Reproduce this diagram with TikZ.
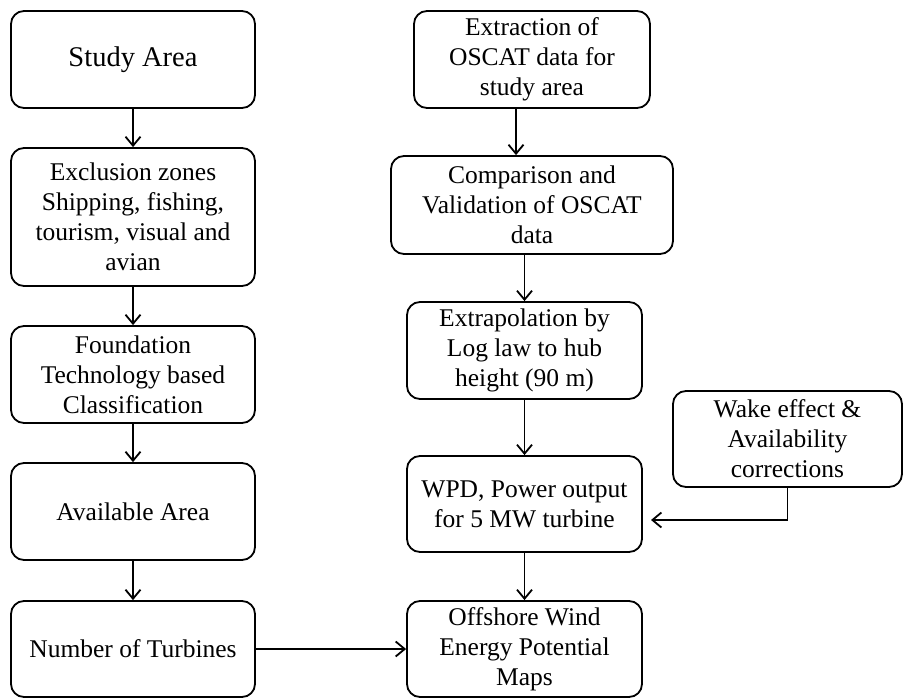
\documentclass[tikz,border=0pt]{standalone}
\usepackage{fontspec}
\setmainfont{Liberation Serif}
\usetikzlibrary{arrows.meta}
\begin{document}
\begin{tikzpicture}[x=1pt,y=-1pt,
  box/.style={draw, line width=1.8pt, rounded corners=13pt, align=center, inner sep=0pt,
    font=\fontsize{25.5}{30}\selectfont},
  arr/.style={draw, line width=1.8pt, -{Straight Barb[length=9pt,width=15pt,line width=1.8pt]}}]
\useasboundingbox (0,0) rectangle (919,698);
% left column
\node[box, minimum width=244pt, minimum height=97pt, font=\fontsize{28.5}{33}\selectfont] (study) at (133,59.5) {Study Area};
\node[box, minimum width=244pt, minimum height=138pt] (excl) at (133,217) {Exclusion zones\\Shipping, fishing,\\tourism, visual and\\avian};
\node[box, minimum width=244pt, minimum height=97pt] (found) at (133,374.5) {Foundation\\Technology based\\Classification};
\node[box, minimum width=244pt, minimum height=97pt] (avail) at (133,511.5) {Available Area};
\node[box, minimum width=244pt, minimum height=96pt] (num) at (133,649) {Number of Turbines};
% right column
\node[box, minimum width=236pt, minimum height=97pt] (extr) at (532,59.5) {\raisebox{-3pt}{\parbox{236pt}{\centering Extraction of\\OSCAT data for\\study area}}};
\node[box, minimum width=282pt, minimum height=98pt] (comp) at (532,205) {Comparison and\\Validation of OSCAT\\data};
\node[box, minimum width=235pt, minimum height=97pt] (extrap) at (524.5,350.5) {Extrapolation by\\Log law to hub\\height (90 m)};
\node[box, minimum width=235pt, minimum height=96pt] (wpd) at (524.5,504) {WPD, Power output\\for 5 MW turbine};
\node[box, minimum width=235pt, minimum height=96pt] (off) at (524.5,649) {Offshore Wind\\Energy Potential\\Maps};
\node[box, minimum width=229pt, minimum height=96pt] (wake) at (787.5,439) {Wake effect \&\\Availability\\corrections};
\coordinate (wt) at (651,520);
% connectors
\draw[arr] (study) -- (excl);
\draw[arr] (excl) -- (found);
\draw[arr] (found) -- (avail);
\draw[arr] (avail) -- (num);
\draw[arr] (num) -- (off);
\draw[arr] ([xshift=-16pt]extr.south) -- ([xshift=-16pt]extr.south |- comp.north);
\draw[arr] (extrap.north |- comp.south) -- (extrap.north);
\draw[arr] (extrap) -- (wpd);
\draw[arr] (wpd) -- (off);
\draw[arr] (wake.south) |- (wt);
\end{tikzpicture}
\end{document}
